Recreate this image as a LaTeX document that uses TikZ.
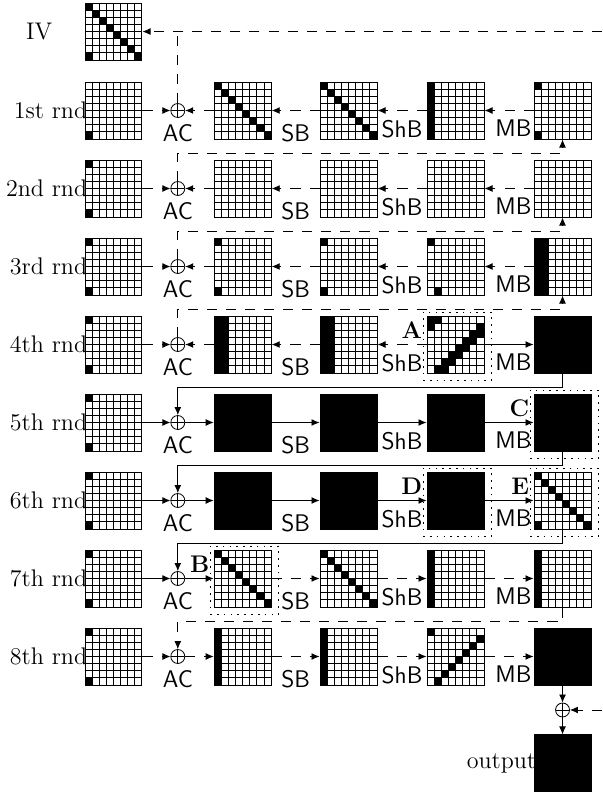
\documentclass[tikz,border=0pt]{standalone}
\usepackage{tikz}
\usetikzlibrary{arrows.meta,positioning,calc,fit}

% cell lists (column/row, counted from the top left cell)
\def\diagcells{0/0,1/1,2/2,3/3,4/4,5/5,6/6,7/7}
\def\antidiagcells{0/0,7/1,6/2,5/3,4/4,3/5,2/6,1/7}
\def\firstcol{0/0,0/1,0/2,0/3,0/4,0/5,0/6,0/7}
\def\firsttwocols{\firstcol,1/0,1/1,1/2,1/3,1/4,1/5,1/6,1/7}
\def\shiftedcols{0/0,1/0,7/1,0/1,6/2,7/2,5/3,6/3,4/4,5/4,3/5,4/5,2/6,3/6,1/7,2/7}

\newcommand{\markcells}[2]{%
  \edef\celllist{#2}%
  \foreach \cx/\cy in \celllist
    {\fill ([shift={(\cx*0.125cm,-\cy*0.125cm)}]#1.north west) rectangle ++(0.125cm,-0.125cm);}}
\newcommand{\blackout}[1]{\fill (#1.north west) rectangle (#1.south east);}

\tikzset{
  state/.style={draw,fill=white,minimum size=1cm,inner sep=0pt,line width=0.5pt,
    path picture={\foreach \i in {1,...,7}{
      \draw ([xshift=\i*0.125cm]path picture bounding box.north west)
        -- ([xshift=\i*0.125cm]path picture bounding box.south west);
      \draw ([yshift=-\i*0.125cm]path picture bounding box.north west)
        -- ([yshift=-\i*0.125cm]path picture bounding box.north east);}}},
  xorop/.style={circle,draw,minimum size=0.245cm,inner sep=0pt,
    path picture={\draw (path picture bounding box.north) -- (path picture bounding box.south)
      (path picture bounding box.west) -- (path picture bounding box.east);}},
  rowlab/.style={anchor=east,inner sep=0pt,xshift=1.5pt,font=\large},
  oplab/.style={font=\sffamily\large},
  sblab/.style={oplab,below=3.6pt},
  shlab/.style={oplab,below=1.3pt},
  mblab/.style={oplab,below=1.3pt,xshift=2.2pt},
  solidarr/.style={-{Latex[length=4pt,width=3.4pt]}},
  longdash/.style={dash pattern=on 5pt off 4.5pt},
  dasharr/.style={solidarr,longdash},
  spot/.style={draw,dash pattern=on 0.8pt off 2.6pt,inner sep=0.09cm,xshift=0.03cm,yshift=-0.027cm},
  tag/.style={anchor=east,inner sep=2pt,font=\large\bfseries},
}

\begin{document}
\begin{tikzpicture}[x=0.017544cm,y=-0.017544cm]
\useasboundingbox (0,0) rectangle (602,794);
\coordinate (kin) at (602,0);

% one row of states per round
\foreach \n in {1,...,8}{
  \node[state] (k\n) at (113.5,{110.5+78*(\n-1)}) {};
  \node[xorop,right=0.49cm of k\n] (x\n) {};
  \node[oplab,below=0pt of x\n] (ac\n) {AC};
  \node[state,right=0.5cm of x\n] (a\n) {};
  \node[state,right=0.84cm of a\n] (b\n) {};
  \node[state,right=0.86cm of b\n] (c\n) {};
  \node[state,right=0.86cm of c\n] (d\n) {};
}
\foreach \n/\ord in {1/1st,2/2nd,3/3rd,4/4th,5/5th,6/6th,7/7th,8/8th}
  \node[rowlab] (r\n) at (k\n.west) {\ord\ rnd};

\node[state,above=0.368cm of k1] (iv) {};
\node[font=\large,left=0.44cm of iv] (ivlab) {IV};
\node[xorop,below=0.3cm of d8] (fx) {};
\node[state,below=0.3cm of fx] (out) {};
\node[rowlab] (outlab) at (out.west) {output};

% black cells
\markcells{iv}{\diagcells,0/7}
\markcells{k1}{0/7}
\foreach \n in {2,...,8} {\markcells{k\n}{0/0,0/7}}
\markcells{a1}{\diagcells} \markcells{b1}{\diagcells}
\markcells{c1}{\firstcol} \markcells{d1}{0/0,0/7}
\markcells{a3}{0/0,0/7} \markcells{b3}{0/0,0/7}
\markcells{c3}{0/0,1/7} \markcells{d3}{\firsttwocols}
\markcells{a4}{\firsttwocols} \markcells{b4}{\firsttwocols}
\markcells{c4}{\shiftedcols} \blackout{d4}
\blackout{a5} \blackout{b5} \blackout{c5} \blackout{d5}
\blackout{a6} \blackout{b6} \blackout{c6} \markcells{d6}{\diagcells,0/7}
\markcells{a7}{\diagcells} \markcells{b7}{\diagcells}
\markcells{c7}{\firstcol} \markcells{d7}{\firstcol}
\markcells{a8}{\firstcol} \markcells{b8}{\firstcol}
\markcells{c8}{\antidiagcells} \blackout{d8}
\blackout{out}

% rounds 1-3, backwards
\foreach \n in {1,2,3}{
  \draw[dasharr] (k\n) -- (x\n);
  \draw[dasharr] (a\n) -- (x\n);
  \draw[dasharr] (b\n) -- node[sblab] (sb\n) {SB} (a\n);
  \draw[dasharr] (c\n) -- node[shlab] (shb\n) {ShB} (b\n);
  \draw[dasharr] (d\n) -- node[mblab] (mb\n) {MB} (c\n);
}
% round 4
\draw[dasharr] (k4) -- (x4);
\draw[dasharr] (a4) -- (x4);
\draw[dasharr] (b4) -- node[sblab] (sb4) {SB} (a4);
\draw[dasharr] (c4) -- node[shlab] (shb4) {ShB} (b4);
\draw[solidarr] (c4) -- node[mblab] (mb4) {MB} (d4);
% rounds 5-8, forwards
\foreach \n/\sa/\sb in {5/solidarr/solidarr,6/solidarr/solidarr,7/solidarr/dasharr,8/dasharr/dasharr}{
  \draw[\sa] (k\n) -- (x\n);
  \draw[\sa] (x\n) -- (a\n);
  \draw[\sb] (a\n) -- node[sblab] (sb\n) {SB} (b\n);
  \draw[\sb] (b\n) -- node[shlab] (shb\n) {ShB} (c\n);
  \draw[\sb] (c\n) -- node[mblab] (mb\n) {MB} (d\n);
}

% links between rounds
\draw[dasharr] (kin |- iv) -- (iv);
\draw[longdash] (x1) -- (x1 |- iv);
\foreach \n/\m in {1/2,2/3,3/4}
  \draw[dasharr] (x\m) |- ($(d\n.south)+(0,14)$) -- (d\n);
\foreach \n/\m in {4/5,5/6,6/7}
  \draw[solidarr] (d\n) -- ($(d\n.south)+(0,14)$) -| (x\m);
\draw[dasharr] (d7) -- ($(d7.south)+(0,14)$) -| (x8);
\draw[solidarr] (d8) -- (fx);
\draw[solidarr] (fx) -- (out);
\draw[dasharr] (kin |- fx) -- (fx);

% marked states
\foreach \g/\l in {c4/A,a7/B,d5/C,c6/D,d6/E}{
  \node[spot,fit=(\g)] (box\l) {};
  \node[tag] (lab\l) at ([yshift=0.25cm]\g.west) {\l};
}
\end{tikzpicture}
\end{document}
